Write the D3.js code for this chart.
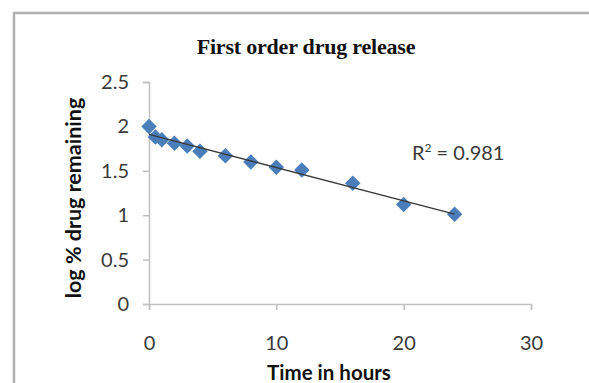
<!DOCTYPE html>
<html>
<head>
<meta charset="utf-8">
<script src="https://cdn.jsdelivr.net/npm/d3@7"></script>
<style>
  html, body { margin: 0; padding: 0; background: #fff; }
  svg { display: block; }
</style>
</head>
<body>
<div id="chart"></div>
<script>
// data
const hours = [0, 0.5, 1, 2, 3, 4, 6, 8, 10, 12, 16, 20, 24];
const logRemaining = [2.0, 1.88, 1.85, 1.81, 1.78, 1.72, 1.67, 1.6, 1.54, 1.51, 1.36, 1.12, 1.01];
const xTicks = [0, 10, 20, 30];
const yTicks = [0, 0.5, 1, 1.5, 2, 2.5];
const rSquaredLabel = "0.981";

const width = 589;
const height = 383;
const plot = { left: 149, right: 531, top: 82, bottom: 304 };

const svg = d3.select("#chart").append("svg")
  .attr("width", width)
  .attr("height", height);

// outer chart border, cut by the picture at right and bottom
svg.append("rect")
  .attr("x", 14).attr("y", 13)
  .attr("width", 620).attr("height", 420)
  .attr("fill", "none")
  .attr("stroke", "#b0b0b0")
  .attr("stroke-width", 2.5);

const scaleX = d3.scaleLinear().domain([0, 30]).range([plot.left, plot.right]);
const scaleY = d3.scaleLinear().domain([0, 2.5]).range([plot.bottom, plot.top]);

const tickFont = "Lato, 'Open Sans', sans-serif";

const xAxis = d3.axisBottom(scaleX).tickValues(xTicks).tickSize(6).tickPadding(26);
const yAxis = d3.axisLeft(scaleY).tickValues(yTicks).tickFormat(d3.format("~g")).tickSize(6).tickPadding(14);

const gx = svg.append("g")
  .attr("transform", "translate(0," + plot.bottom + ")")
  .call(xAxis);
const gy = svg.append("g")
  .attr("transform", "translate(" + plot.left + ",0)")
  .call(yAxis);

[gx, gy].forEach((g) => {
  g.select(".domain").attr("stroke", "#c0c0c0").attr("stroke-width", 1.5);
  g.selectAll(".tick line").attr("stroke", "#c0c0c0").attr("stroke-width", 1.5);
  g.selectAll(".tick text")
    .attr("fill", "#3a3a3a")
    .style("font-family", tickFont)
    .style("font-size", "20px");
});

// title
svg.append("text")
  .attr("x", 306)
  .attr("y", 54)
  .attr("text-anchor", "middle")
  .style("font-family", "'Liberation Serif', 'Times New Roman', serif")
  .style("font-weight", "bold")
  .style("font-size", "22px")
  .style("letter-spacing", "-0.2px")
  .attr("fill", "#111")
  .text("First order drug release");

// axis titles
svg.append("text")
  .attr("x", 329)
  .attr("y", 380)
  .attr("text-anchor", "middle")
  .style("font-family", tickFont)
  .style("font-weight", "bold")
  .style("font-size", "20.5px")
  .attr("fill", "#111")
  .text("Time in hours");

svg.append("text")
  .attr("transform", "translate(81,198) rotate(-90)")
  .attr("text-anchor", "middle")
  .style("font-family", tickFont)
  .style("font-weight", "bold")
  .style("font-size", "21.5px")
  .attr("fill", "#111")
  .text("log % drug remaining");

// least squares trend line
const data = hours.map((h, i) => ({ x: h, y: logRemaining[i] }));
const mx = d3.mean(data, (d) => d.x);
const my = d3.mean(data, (d) => d.y);
const slope = d3.sum(data, (d) => (d.x - mx) * (d.y - my)) / d3.sum(data, (d) => (d.x - mx) ** 2);
const intercept = my - slope * mx;
const xExtent = d3.extent(hours);

const line = d3.line()
  .x((d) => scaleX(d))
  .y((d) => scaleY(intercept + slope * d));

const diamond = d3.symbol().type(d3.symbolSquare).size(120);

svg.selectAll(".dot")
  .data(data)
  .enter()
  .append("path")
  .attr("class", "dot")
  .attr("d", diamond)
  .attr("transform", (d) => "translate(" + scaleX(d.x) + "," + scaleY(d.y) + ") rotate(45)")
  .attr("fill", "#4a7ebb");

svg.append("path")
  .attr("d", line(xExtent))
  .attr("fill", "none")
  .attr("stroke", "#3a3a3a")
  .attr("stroke-width", 1.3);

// R squared label
const rText = svg.append("text")
  .attr("x", 412)
  .attr("y", 160)
  .style("font-family", tickFont)
  .style("font-size", "20px")
  .attr("fill", "#3a3a3a");
rText.append("tspan").text("R");
rText.append("tspan").attr("dy", -8).style("font-size", "12px").text("2");
rText.append("tspan").attr("dy", 8).text(" = " + rSquaredLabel);
</script>
</body>
</html>
